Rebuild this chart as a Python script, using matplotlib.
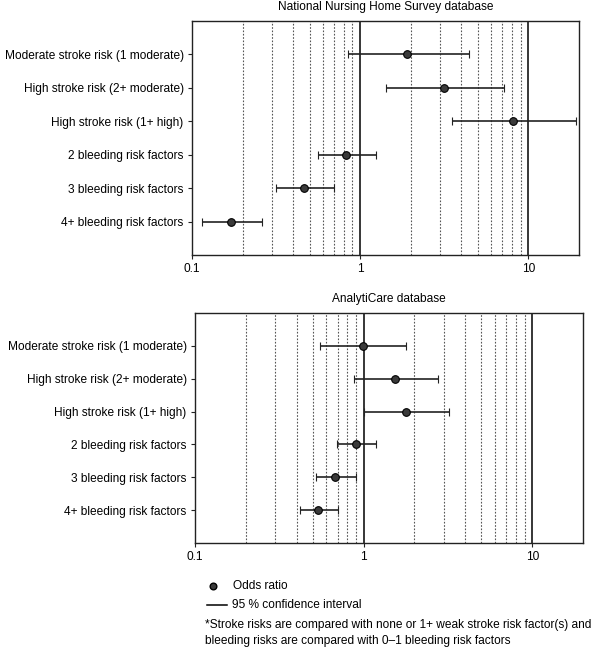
import matplotlib
matplotlib.use('Agg')
import matplotlib.pyplot as plt
from matplotlib.lines import Line2D

plt.rcParams['font.family'] = ['Liberation Sans', 'DejaVu Sans']

labels = ['Moderate stroke risk (1 moderate)', 'High stroke risk (2+ moderate)',
          'High stroke risk (1+ high)', '2 bleeding risk factors',
          '3 bleeding risk factors', '4+ bleeding risk factors']

nnhs_or = [1.91, 3.16, 8.1, 0.826, 0.464, 0.171]
nnhs_lo = [0.845, 1.42, 3.5, 0.56, 0.316, 0.115]
nnhs_hi = [4.41, 7.17, 19.3, 1.24, 0.703, 0.26]

ac_or = [0.99, 1.53, 1.78, 0.905, 0.68, 0.536]
ac_lo = [0.553, 0.873, 1.0, 0.695, 0.524, 0.417]
ac_hi = [1.78, 2.76, 3.22, 1.19, 0.897, 0.704]

minor = [0.2, 0.3, 0.4, 0.5, 0.6, 0.7, 0.8, 0.9, 2, 3, 4, 5, 6, 7, 8, 9]

W, H = 600, 652
FS = 8.6


def px(x0, y0, x1, y1):
    return [x0 / W, 1 - y1 / H, (x1 - x0) / W, (y1 - y0) / H]


def forest(ax, title, est, lo, hi):
    ypos = list(range(len(labels), 0, -1))
    for v in minor:
        ax.axvline(v, color='#555555', lw=0.8, ls=(0, (1.5, 1.5)), zorder=1)
    for v in [1, 10]:
        ax.axvline(v, color='black', lw=1.1, zorder=1)
    err = [[e - l for e, l in zip(est, lo)], [h - e for e, h in zip(est, hi)]]
    ax.errorbar(est, ypos, xerr=err, fmt='o', color='black', ecolor='#222222',
                elinewidth=1.2, capsize=2.8, capthick=1.2, ms=5.5,
                mfc='#3a3a3a', mec='black', mew=0.8, zorder=3)
    ax.set_xscale('log')
    ax.set_xlim(0.1, 20)
    ax.set_ylim(0, 7)
    ax.set_xticks([0.1, 1, 10])
    ax.set_xticklabels(['0.1', '1', '10'])
    ax.minorticks_off()
    ax.set_yticks(ypos)
    ax.set_yticklabels(labels)
    ax.tick_params(axis='both', length=3, labelsize=FS, color='#222222')
    ax.tick_params(axis='y', pad=3)
    ax.tick_params(axis='x', pad=3)
    for s in ax.spines.values():
        s.set_color('#222222')
        s.set_linewidth(1.0)
    ax.set_title(title, fontsize=FS, pad=8)


fig = plt.figure(figsize=(6, 6.52), dpi=100)
ax1 = fig.add_axes(px(192, 21, 579, 255))
forest(ax1, 'National Nursing Home Survey database', nnhs_or, nnhs_lo, nnhs_hi)
ax2 = fig.add_axes(px(195, 313, 583, 543))
forest(ax2, 'AnalytiCare database', ac_or, ac_lo, ac_hi)

# legend and footnote
fig.add_artist(Line2D([213 / W], [1 - 586 / H], marker='o', ms=4.8, mfc='#3a3a3a',
                      mec='black', ls='none'))
fig.text(233 / W, 1 - 586 / H, 'Odds ratio', fontsize=FS, va='center')
fig.add_artist(Line2D([207 / W, 227 / W], [1 - 605 / H, 1 - 605 / H],
                      color='black', lw=1.1))
fig.text(232 / W, 1 - 605 / H, '95 % confidence interval', fontsize=FS, va='center')
fig.text(205 / W, 1 - 625 / H,
         '*Stroke risks are compared with none or 1+ weak stroke risk factor(s) and',
         fontsize=FS, va='center')
fig.text(205 / W, 1 - 641 / H,
         'bleeding risks are compared with 0\u20131 bleeding risk factors',
         fontsize=FS, va='center')

fig.savefig('out.png', dpi=100)
